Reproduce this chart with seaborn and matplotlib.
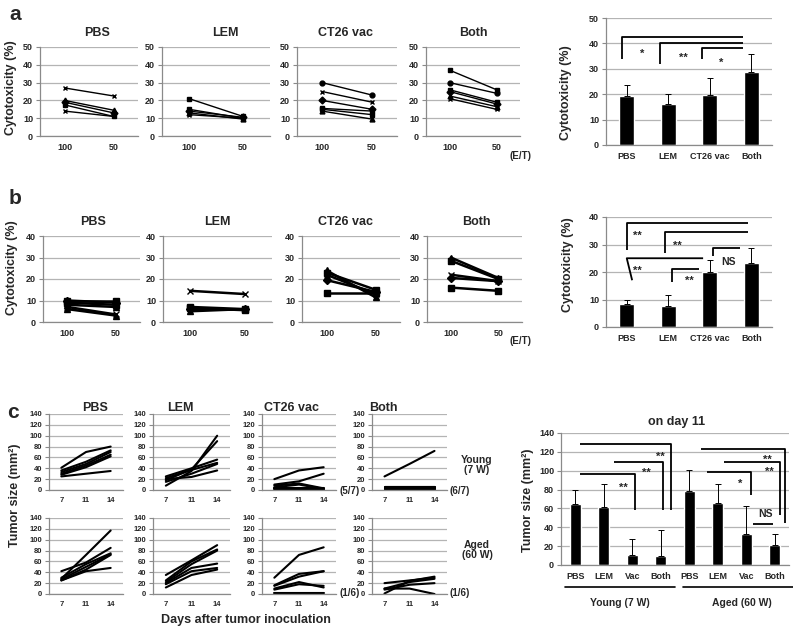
import numpy as np
import pandas as pd
import matplotlib
matplotlib.use('Agg')
import matplotlib.pyplot as plt
from matplotlib.lines import Line2D
import seaborn as sns

sns.set_theme(style='white')
plt.rcParams['font.family'] = ['Liberation Sans', 'DejaVu Sans']
plt.rcParams['font.weight'] = 'bold'

# ---------------- data ----------------
groups = ['PBS', 'LEM', 'CT26 vac', 'Both']
et_labels = ['100', '50']
days = ['7', '11', '14']

# panel a: cytotoxicity per mouse at E/T 100 and 50
a_pbs = [[27, 22.5], [20, 14.5], [19, 13], [17.5, 11], [14, 11]]
a_lem = [[21, 11], [15, 10], [14, 10.5], [13, 9.5], [12, 10]]
a_vac = [[30, 23], [25, 19], [20, 15], [15.5, 14], [15, 12], [14, 9.5]]
a_both = [[37, 26], [30, 24], [26, 19], [25, 18], [22.5, 16.5], [21, 15]]
a_pbs_m = ['x', '^', 'D', 's', 'x']
a_lem_m = ['s', 's', 'D', '^', 'x']
a_vac_m = ['o', 'x', 'D', 's', 's', '^']
a_both_m = ['s', 'o', 's', 'D', '^', 'x']
a_bar_mean = [19.2, 16.2, 19.8, 28.8]
a_bar_top = [23.5, 20.0, 26.3, 36.0]

# panel b
b_pbs = [[10, 10], [10, 9], [9, 8], [8, 7], [7, 3.5], [6, 3]]
b_lem = [[14.5, 13], [7, 6], [6.5, 5.5], [6, 6], [5, 6]]
b_vac = [[24, 11.5], [23, 15], [22, 13], [19.5, 14], [13.5, 13.5]]
b_both = [[30, 20.5], [28.5, 20], [22, 19], [20.5, 19], [16, 14.5]]
b_pbs_m = ['s', 'D', 's', '^', 'x', '^']
b_lem_m = ['x', 's', 's', 'D', '^']
b_vac_m = ['^', 's', 'x', 'D', 's']
b_both_m = ['^', 's', 'x', 'D', 's']
b_bar_mean = [8.3, 7.6, 20.1, 23.2]
b_bar_top = [9.9, 11.7, 24.3, 28.8]

# panel c: tumour size per mouse on days 7, 11, 14
c_young = [
    [[41, 70, 80], [36, 52, 73], [33, 48, 70], [30, 45, 65], [28, 42, 62], [25, 30, 35]],
    [[8, 35, 100], [18, 38, 90], [25, 40, 56], [22, 37, 50], [15, 30, 48], [20, 24, 36]],
    [[20, 36, 42], [10, 16, 30], [8, 12, 3], [5, 10, 2], [4, 4, 4], [2, 2, 2], [3, 1, 1]],
    [[25, 48, 72], [2, 2, 2], [3, 3, 3], [4, 4, 4], [5, 5, 5], [6, 6, 6], [1, 1, 1]],
]
c_aged = [
    [[42, 58, 85], [28, 72, 117], [30, 55, 75], [27, 50, 73], [25, 45, 72], [25, 42, 48]],
    [[35, 62, 90], [25, 60, 82], [22, 55, 80], [20, 48, 56], [18, 42, 48], [12, 35, 45]],
    [[30, 72, 86], [16, 37, 42], [15, 32, 42], [10, 22, 12], [8, 18, 15], [2, 2, 2]],
    [[20, 25, 30], [1, 24, 32], [10, 22, 28], [8, 17, 20], [10, 10, 0]],
]
c_young_note = ['', '', '(5/7)', '(6/7)']
c_aged_note = ['', '', '(1/6)', '(1/6)']
c_bar_cats = ['PBS', 'LEM', 'Vac', 'Both', 'PBS', 'LEM', 'Vac', 'Both']
c_bar_mean = [65, 62, 11, 10, 78, 66, 33, 21]
c_bar_top = [80, 86, 28, 37, 101, 86, 63, 33]

# ---------------- figure helpers ----------------
W, H = 793, 631
fig = plt.figure(figsize=(W / 100, H / 100), dpi=100)
GRID = '#b4b4b4'
AX = '#8a8a8a'


def px_ax(l, t, r, b):
    return fig.add_axes([l / W, 1 - b / H, (r - l) / W, (b - t) / H])


def ftext(x, y, s, **kw):
    kw.setdefault('ha', 'center')
    kw.setdefault('va', 'center')
    kw.setdefault('fontweight', 'bold')
    fig.text(x / W, 1 - y / H, s, **kw)


def style(ax, n, xlabels, ymax, ystep, fs=6.5):
    ax.set_xlim(-0.5, n - 0.5)
    ax.set_ylim(0, ymax)
    ax.set_yticks(np.arange(0, ymax + 0.01, ystep))
    ax.set_xticks(range(n))
    ax.set_xticklabels(xlabels)
    ax.set_xticks(np.arange(-0.5, n, 1), minor=True)
    ax.grid(axis='y', color=GRID, lw=0.9)
    ax.grid(axis='x', visible=False)
    ax.set_axisbelow(True)
    for s in ['top', 'right']:
        ax.spines[s].set_visible(False)
    for s in ['left', 'bottom']:
        ax.spines[s].set_color(AX)
        ax.spines[s].set_linewidth(0.9)
    ax.tick_params(axis='x', which='major', length=0, labelsize=fs, pad=5)
    ax.tick_params(axis='x', which='minor', length=3, color=AX, width=0.8)
    ax.tick_params(axis='y', which='major', length=3, color=AX, width=0.8,
                   labelsize=fs, pad=2, left=True)
    for lab in ax.get_xticklabels() + ax.get_yticklabels():
        lab.set_fontweight('bold')
    ax.set_xlabel('')
    ax.set_ylabel('')


def line_panel(ax, series, markers, xlabels, ymax, ystep, lw, ms, fs=6.5):
    n = len(xlabels)
    for i, vals in enumerate(series):
        m = markers[i] if markers else None
        df = pd.DataFrame({'x': np.arange(n), 'y': vals})
        sns.lineplot(data=df, x='x', y='y', ax=ax, color='black', lw=lw,
                     marker=m, markersize=ms, markeredgecolor='black',
                     markerfacecolor='black', markeredgewidth=1.0,
                     sort=False, legend=False, errorbar=None)
    style(ax, n, xlabels, ymax, ystep, fs)


def bar_panel(ax, cats, means, tops, ymax, ystep, width, fs=6.5):
    n = len(cats)
    df = pd.DataFrame({'key': [f'{i}' for i in range(n)], 'val': means})
    sns.barplot(data=df, x='key', y='val', ax=ax, color='black', saturation=1,
                width=width, errorbar=None)
    up = np.array(tops) - np.array(means)
    ax.errorbar(np.arange(n), means, yerr=[np.zeros(n), up], fmt='none',
                ecolor='black', elinewidth=0.7, capsize=2, capthick=0.7)
    style(ax, n, cats, ymax, ystep, fs)


def bracket(ax, pts, lw=1.3):
    xs, ys = zip(*pts)
    ax.plot(xs, ys, color='black', lw=lw, clip_on=False, solid_capstyle='butt')


# ---------------- panel a ----------------
ftext(15, 15, 'a', fontsize=15)
a_pos = [(40, 138), (162, 270), (297, 397), (426, 520)]
a_data = [a_pbs, a_lem, a_vac, a_both]
a_mk = [a_pbs_m, a_lem_m, a_vac_m, a_both_m]
a_tx = [97, 225, 345, 473]
for (l, r), d, m, tx, g in zip(a_pos, a_data, a_mk, a_tx, groups):
    ax = px_ax(l, 47, r, 136)
    line_panel(ax, d, m, et_labels, 50, 10, 1.0, 3.5)
    ftext(tx, 33, g, fontsize=9)
ftext(509, 156, '(E/T)', fontsize=7, ha='left')
ftext(11, 88, 'Cytotoxicity (%)', fontsize=9, rotation=90)

axa = px_ax(606, 18, 772, 145)
bar_panel(axa, groups, a_bar_mean, a_bar_top, 50, 10, 0.37)
ftext(566, 93, 'Cytotoxicity (%)', fontsize=9, rotation=90)
bracket(axa, [(-0.11, 34), (-0.11, 42.5), (2.8, 42.5)])
bracket(axa, [(0.80, 32), (0.80, 40.2), (2.8, 40.2)])
bracket(axa, [(1.81, 33.8), (1.81, 38.2), (2.8, 38.2)])
axa.text(0.37, 36, '*', ha='center', va='center', fontsize=8, fontweight='bold')
axa.text(1.36, 34.5, '**', ha='center', va='center', fontsize=8, fontweight='bold')
axa.text(2.27, 32.5, '*', ha='center', va='center', fontsize=8, fontweight='bold')

# ---------------- panel b ----------------
ftext(15, 199, 'b', fontsize=15)
b_pos = [(43, 140), (163, 272), (302, 400), (427, 522)]
b_data = [b_pbs, b_lem, b_vac, b_both]
b_mk = [b_pbs_m, b_lem_m, b_vac_m, b_both_m]
b_tx = [93, 217, 345, 476]
for (l, r), d, m, tx, g in zip(b_pos, b_data, b_mk, b_tx, groups):
    ax = px_ax(l, 236, r, 322)
    line_panel(ax, d, m, et_labels, 40, 10, 1.8, 4.5)
    ftext(tx, 222, g, fontsize=9)
ftext(509, 341, '(E/T)', fontsize=7, ha='left')
ftext(12, 268, 'Cytotoxicity (%)', fontsize=9, rotation=90)

axb = px_ax(606, 217, 772, 327)
bar_panel(axb, groups, b_bar_mean, b_bar_top, 40, 10, 0.37)
ftext(568, 265, 'Cytotoxicity (%)', fontsize=9, rotation=90)
bracket(axb, [(0.0, 28), (0.0, 38), (2.92, 38)])
bracket(axb, [(0.92, 27), (0.92, 34.7), (2.92, 34.7)])
bracket(axb, [(0.13, 17), (0.0, 25), (1.84, 25)])
bracket(axb, [(1.09, 16.5), (1.09, 21), (1.74, 21)])
bracket(axb, [(2.08, 26), (2.08, 28.8), (2.73, 28.8)])
for x, y, s in [(0.25, 33.0, '**'), (1.21, 29.4, '**'), (0.25, 20.6, '**'),
                (1.52, 16.7, '**'), (2.46, 23.7, 'NS')]:
    axb.text(x, y, s, ha='center', va='center', fontsize=8 if s == '**' else 7.5,
             fontweight='bold')

# ---------------- panel c ----------------
ftext(13, 412, 'c', fontsize=15)
c_pos = [(49, 123), (153, 230), (262, 336), (372, 447)]
c_tx = [95, 180, 292, 383]
for (l, r), d, note, tx, g in zip(c_pos, c_young, c_young_note, c_tx, groups):
    ax = px_ax(l, 414, r, 490)
    line_panel(ax, d, None, days, 140, 20, 1.5, 0, fs=5.5)
    ftext(tx, 408, g, fontsize=9)
    if note:
        ftext(r + 3, 491, note, fontsize=7, ha='left')
for (l, r), d, note in zip(c_pos, c_aged, c_aged_note):
    ax = px_ax(l, 518, r, 594)
    line_panel(ax, d, None, days, 140, 20, 1.5, 0, fs=5.5)
    if note:
        ftext(r + 3, 593, note, fontsize=7, ha='left')
ftext(477, 465, 'Young\n(7 W)', fontsize=7.5, linespacing=1.1)
ftext(477, 550, 'Aged\n(60 W)', fontsize=7.5, linespacing=1.1)
ftext(15, 495, 'Tumor size (mm²)', fontsize=9, rotation=90)
ftext(246, 620, 'Days after tumor inoculation', fontsize=9)

axc = px_ax(561, 433, 789, 565)
bar_panel(axc, c_bar_cats, c_bar_mean, c_bar_top, 140, 20, 0.38, fs=6.5)
ftext(528, 500, 'Tumor size (mm²)', fontsize=9, rotation=90)
ftext(677, 422, 'on day 11', fontsize=9)
bracket(axc, [(0.17, 97), (2.10, 97), (2.10, 58)])
bracket(axc, [(1.36, 109.6), (3.08, 109.6), (3.08, 58)])
bracket(axc, [(0.17, 128), (3.36, 128), (3.36, 58)])
bracket(axc, [(4.62, 99), (6.17, 99), (6.17, 74)])
bracket(axc, [(5.22, 109.6), (7.18, 109.6), (7.18, 53)])
bracket(axc, [(4.41, 122.7), (7.36, 122.7), (7.36, 44.5)])
bracket(axc, [(6.24, 43), (6.94, 43)])
for x, y, s in [(1.68, 82, '**'), (2.48, 98, '**'), (2.97, 115, '**'),
                (5.78, 86, '*'), (6.80, 99, '**'), (6.73, 112, '**'), (6.66, 54, 'NS')]:
    axc.text(x, y, s, ha='center', va='center', fontsize=8 if s != 'NS' else 7.5,
             fontweight='bold')

fig.add_artist(Line2D([565 / W, 675 / W], [1 - 587 / H, 1 - 587 / H], color='black', lw=1.2))
fig.add_artist(Line2D([683 / W, 793 / W], [1 - 587 / H, 1 - 587 / H], color='black', lw=1.2))
ftext(620, 603, 'Young (7 W)', fontsize=7.5)
ftext(742, 603, 'Aged (60 W)', fontsize=7.5)

fig.savefig('out.png', dpi=100)
